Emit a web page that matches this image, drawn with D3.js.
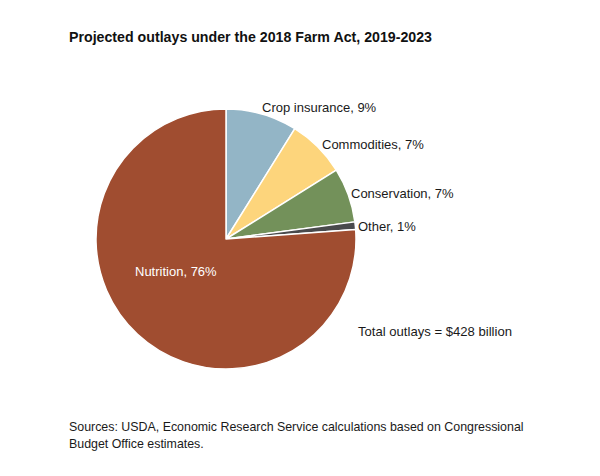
<!DOCTYPE html>
<html><head><meta charset="utf-8">
<script src="https://cdn.jsdelivr.net/npm/d3@7"></script>
<style>
html,body{margin:0;padding:0;background:#fff;}
svg{display:block;font-family:"Liberation Sans",Arial,Helvetica,sans-serif;}
</style></head>
<body><svg id="c" width="600" height="476"></svg>
<script>
// Data (billions of dollars, 2019-2023)
const categories = ["Crop insurance", "Commodities", "Conservation", "Other", "Nutrition"];
const values = [38, 31, 29, 4, 326];
const percentLabels = ["9%", "7%", "7%", "1%", "76%"];
const colors = ["#93b5c6", "#fdd57c", "#73915a", "#494a4c", "#a04d30"];
const title = "Projected outlays under the 2018 Farm Act, 2019-2023";
const totalNote = "Total outlays = $428 billion";
const sourceLines = ["Sources: USDA, Economic Research Service calculations based on Congressional", "Budget Office estimates."];

// Layout
const cx = 226, cy = 239, r = 130;
const labelPos = [
  {x: 262, y: 112, anchor: "start", fill: "#1a1a1a"},
  {x: 322, y: 149, anchor: "start", fill: "#1a1a1a"},
  {x: 351, y: 198, anchor: "start", fill: "#1a1a1a"},
  {x: 358, y: 231, anchor: "start", fill: "#1a1a1a"},
  {x: 135, y: 276, anchor: "start", fill: "#ffffff"}
];

const svg = d3.select("#c");
svg.append("text").attr("x", 69).attr("y", 42)
  .attr("font-size", 14.2).attr("font-weight", "bold").attr("fill", "#111").text(title);

const data = categories.map((c, i) => ({name: c, value: values[i], pct: percentLabels[i], color: colors[i], i}));
const pie = d3.pie().value(d => d.value).sort(null);
const arc = d3.arc().innerRadius(0).outerRadius(r);
const g = svg.append("g").attr("transform", `translate(${cx},${cy})`);
g.selectAll("path").data(pie(data)).join("path")
  .attr("d", arc).attr("fill", d => d.data.color)
  .attr("stroke", "#fff").attr("stroke-width", 1.5).attr("stroke-linejoin", "round");

svg.selectAll("text.lbl").data(data).join("text").attr("class", "lbl")
  .attr("x", d => labelPos[d.i].x).attr("y", d => labelPos[d.i].y)
  .attr("text-anchor", d => labelPos[d.i].anchor)
  .attr("fill", d => labelPos[d.i].fill)
  .attr("font-size", 13).text(d => `${d.name}, ${d.pct}`);

svg.append("text").attr("x", 358).attr("y", 336).attr("font-size", 13.1).attr("fill", "#1a1a1a").text(totalNote);

svg.selectAll("text.src").data(sourceLines).join("text").attr("class", "src")
  .attr("x", 69).attr("y", (d, i) => 431 + i * 16.5)
  .attr("font-size", 12.4).attr("fill", "#1a1a1a").text(d => d);
</script></body></html>
